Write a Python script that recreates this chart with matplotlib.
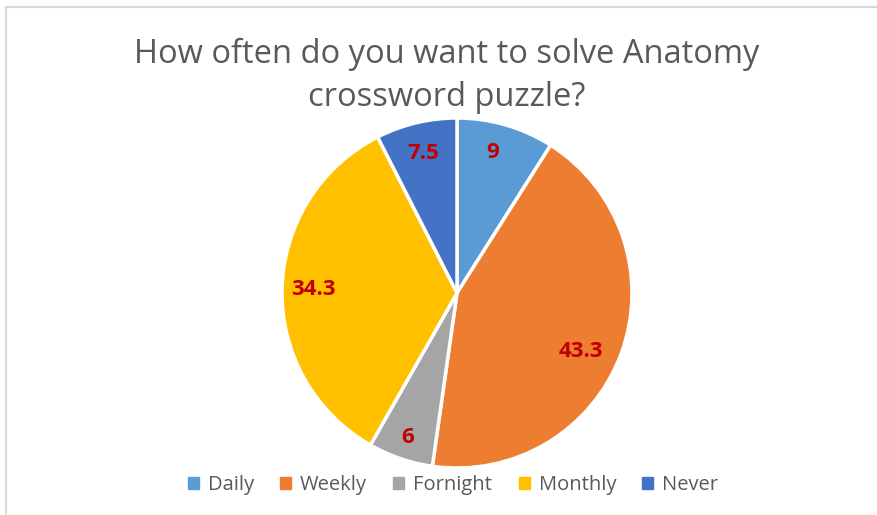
import matplotlib.pyplot as plt
import numpy as np

labels = ["Daily", "Weekly", "Fornight", "Monthly", "Never"]
values = [9, 43.3, 6, 34.3, 7.5]
colors = ["#5B9BD5", "#ED7D31", "#A5A5A5", "#FFC000", "#4472C4"]
label_dist = [0.83, 0.78, 0.87, 0.82, 0.82]
label_turn = [2, -5, 0, 0, 0]  # degrees, nudges label around the centre

plt.rcParams['font.family'] = ['Open Sans', 'DejaVu Sans']

W, H = 877, 515
fig = plt.figure(figsize=(W / 100, H / 100), dpi=100)

# chart area frame (only top and left edges visible)
fig.add_artist(plt.Line2D([6 / W, 6 / W], [0, 1 - 7 / H], color="#D9D9D9", lw=1.6))
fig.add_artist(plt.Line2D([6 / W, 1], [1 - 7 / H, 1 - 7 / H], color="#D9D9D9", lw=1.6))

cx, cy, r = 457, 293, 175
ax = fig.add_axes([(cx - r) / W, (H - cy - r) / H, 2 * r / W, 2 * r / H])
wedges, _ = ax.pie(values, colors=colors, startangle=90, counterclock=False,
                   wedgeprops=dict(edgecolor="white", linewidth=2.5))
ax.set_xlim(-1, 1)
ax.set_ylim(-1, 1)
ax.set_aspect("equal")
ax.axis("off")

for w, v, d, t in zip(wedges, values, label_dist, label_turn):
    ang = np.deg2rad((w.theta1 + w.theta2) / 2 + t)
    ax.text(d * np.cos(ang), d * np.sin(ang), f"{v:g}", ha="center", va="center",
            color="#C00000", fontsize=16, fontweight="bold")

fig.text(447 / W, 1 - 76 / H, "How often do you want to solve Anatomy\ncrossword puzzle?",
         ha="center", va="center", fontsize=23.5, color="#595959", linespacing=1.38)

handles = [plt.Rectangle((0, 0), 1, 1, color=c) for c in colors]
fig.legend(handles, labels, loc="center", bbox_to_anchor=(453 / W, 1 - 485 / H), ncol=5,
           frameon=False, fontsize=14.5, handlelength=0.55, handleheight=0.55,
           handletextpad=0.45, columnspacing=1.3, labelcolor="#595959")

fig.savefig("out.png", dpi=100)
